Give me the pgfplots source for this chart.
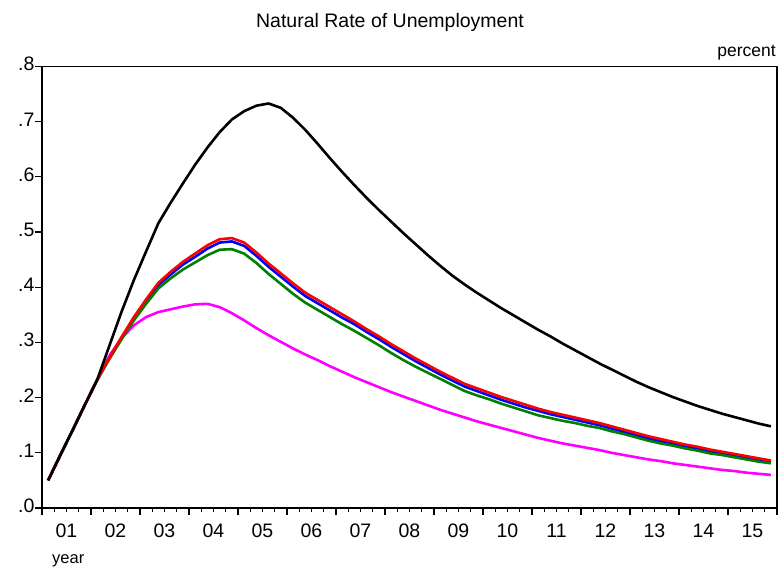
\documentclass[border=0pt]{standalone}
\usepackage{fontspec}
\setmainfont{Liberation Sans}
\usepackage{pgfplots}
\usepackage{pgfplotstable}
\pgfplotsset{compat=1.18}
\definecolor{egreen}{RGB}{0,128,0}
\definecolor{emag}{RGB}{255,0,255}
\pgfplotstableread{
x    blk   red   blu   grn   mag
0.5  0.050 0.050 0.050 0.050 0.050
1.5  0.096 0.096 0.096 0.096 0.096
2.5  0.141 0.141 0.141 0.141 0.141
3.5  0.187 0.187 0.187 0.187 0.187
4.5  0.232 0.232 0.232 0.232 0.232
5.5  0.294 0.272 0.271 0.270 0.276
6.5  0.356 0.310 0.308 0.306 0.308
7.5  0.413 0.346 0.343 0.340 0.331
8.5  0.465 0.378 0.375 0.370 0.346
9.5  0.516 0.408 0.404 0.398 0.355
10.5 0.553 0.428 0.423 0.416 0.360
11.5 0.588 0.446 0.441 0.432 0.365
12.5 0.622 0.461 0.455 0.445 0.369
13.5 0.653 0.476 0.470 0.458 0.370
14.5 0.681 0.487 0.481 0.468 0.364
15.5 0.704 0.489 0.483 0.469 0.353
16.5 0.719 0.481 0.475 0.461 0.340
17.5 0.729 0.463 0.457 0.444 0.326
18.5 0.733 0.443 0.437 0.424 0.313
19.5 0.725 0.425 0.419 0.406 0.301
20.5 0.707 0.407 0.401 0.388 0.289
21.5 0.685 0.390 0.384 0.372 0.278
22.5 0.660 0.377 0.371 0.359 0.268
23.5 0.634 0.364 0.358 0.346 0.257
24.5 0.609 0.351 0.345 0.333 0.247
25.5 0.585 0.338 0.333 0.321 0.237
26.5 0.562 0.324 0.319 0.308 0.228
27.5 0.540 0.311 0.306 0.295 0.219
28.5 0.519 0.297 0.292 0.281 0.210
29.5 0.498 0.284 0.279 0.268 0.202
30.5 0.478 0.271 0.266 0.256 0.194
31.5 0.458 0.259 0.254 0.245 0.186
32.5 0.439 0.247 0.242 0.234 0.178
33.5 0.421 0.236 0.231 0.223 0.171
34.5 0.405 0.225 0.220 0.212 0.164
35.5 0.390 0.217 0.212 0.204 0.157
36.5 0.376 0.209 0.204 0.197 0.151
37.5 0.362 0.201 0.196 0.189 0.145
38.5 0.349 0.194 0.189 0.182 0.139
39.5 0.336 0.187 0.182 0.175 0.133
40.5 0.323 0.180 0.176 0.168 0.127
41.5 0.311 0.174 0.170 0.163 0.122
42.5 0.298 0.169 0.165 0.158 0.117
43.5 0.286 0.164 0.160 0.154 0.113
44.5 0.274 0.159 0.155 0.149 0.109
45.5 0.262 0.154 0.150 0.145 0.105
46.5 0.251 0.148 0.144 0.139 0.100
47.5 0.240 0.142 0.138 0.134 0.096
48.5 0.229 0.136 0.132 0.128 0.092
49.5 0.219 0.130 0.126 0.122 0.088
50.5 0.210 0.125 0.121 0.117 0.085
51.5 0.201 0.120 0.117 0.113 0.081
52.5 0.193 0.115 0.112 0.108 0.078
53.5 0.185 0.111 0.108 0.104 0.075
54.5 0.178 0.106 0.103 0.099 0.072
55.5 0.171 0.102 0.099 0.096 0.069
56.5 0.165 0.098 0.095 0.092 0.067
57.5 0.159 0.094 0.091 0.088 0.064
58.5 0.153 0.090 0.087 0.084 0.062
59.5 0.148 0.086 0.083 0.081 0.060
}\datatable
\begin{document}
\begin{tikzpicture}
\useasboundingbox (-42pt,-65pt) rectangle (738pt,508pt);
\begin{axis}[
  at={(0pt,0pt)}, anchor=south west,
  scale only axis,
  width=735pt, height=441.5pt,
  xmin=0, xmax=60, ymin=0, ymax=0.8,
  xtick={0,4,...,60},
  minor x tick num=3,
  x tick label as interval=true,
  xticklabels={01,02,03,04,05,06,07,08,09,10,11,12,13,14,15},
  ytick={0,0.1,...,0.8},
  yticklabels={.0,.1,.2,.3,.4,.5,.6,.7,.8},
  xtick pos=bottom, ytick pos=left,
  tick align=outside,
  major tick length=7pt, minor tick length=4.5pt,
  every tick/.style={black, line width=1.2pt},
  axis line style={line width=1.5pt},
  /pgf/number format/assume math mode=true,
  typeset ticklabels with strut,
  tick label style={font=\fontsize{19.5}{22}\selectfont},
  xticklabel style={yshift=-4pt},
  yticklabel style={xshift=3pt},
  line join=round,
]
\addplot[emag, line width=2.6pt] table[x=x, y=mag] {\datatable};
\addplot[blue, line width=2.6pt] table[x=x, y=blu] {\datatable};
\addplot[egreen, line width=2.6pt] table[x=x, y=grn] {\datatable};
\addplot[red, line width=2.6pt] table[x=x, y=red] {\datatable};
\addplot[black, line width=2.6pt] table[x=x, y=blk] {\datatable};
\end{axis}
\node[anchor=base, font=\fontsize{19.5}{23}\selectfont] at (348pt,480pt) {Natural Rate of Unemployment};
\node[anchor=base east, inner sep=0pt, font=\fontsize{17.5}{20}\selectfont] at (734pt,451pt) {percent};
\node[anchor=base west, inner sep=0pt, font=\fontsize{16.5}{19}\selectfont] at (10pt,-56pt) {year};
\end{tikzpicture}
\end{document}
